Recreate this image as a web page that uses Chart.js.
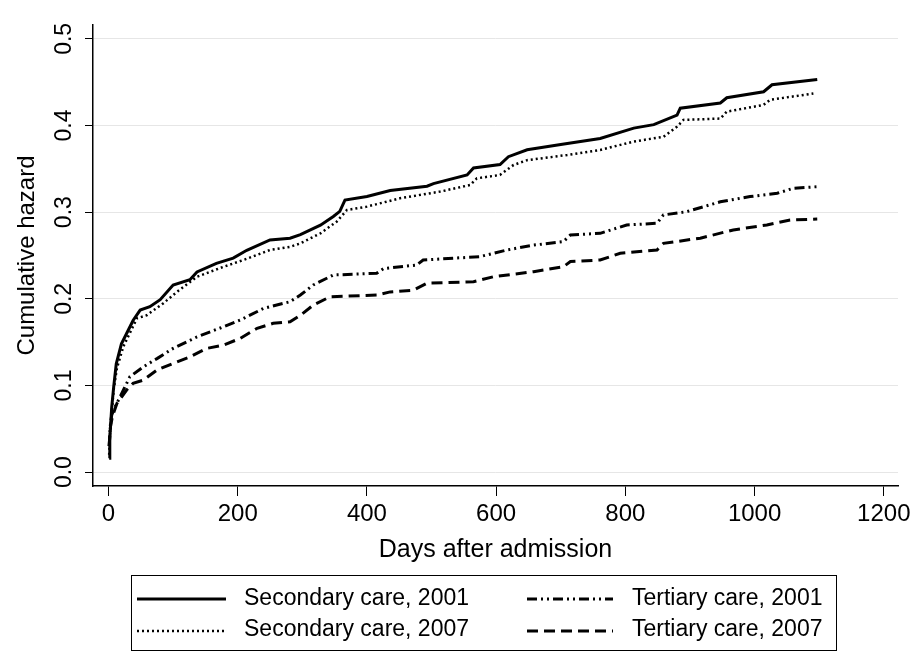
<!DOCTYPE html>
<html>
<head>
<meta charset="utf-8">
<script src="https://cdn.jsdelivr.net/npm/chart.js@4.4.1/dist/chart.umd.min.js"></script>
<style>
  body { margin: 0; background: #fff; }
  canvas { display: block; }
</style>
</head>
<body>
<canvas id="mycanvas" width="924" height="672"></canvas>
<script>
// values
var seriesNames = ['Secondary care, 2001', 'Secondary care, 2007', 'Tertiary care, 2001', 'Tertiary care, 2007'];

var sec2001Days = [1, 2, 5, 8, 12, 20, 28, 38, 49, 64, 80, 100, 126, 137, 167, 193, 214, 250, 281, 297, 328, 348, 358, 366, 400, 436, 493, 503, 555, 565, 606, 619, 648, 700, 761, 813, 844, 880, 885, 947, 957, 1014, 1027, 1097];
var sec2001Haz = [0.016, 0.04, 0.075, 0.098, 0.125, 0.148, 0.160, 0.175, 0.187, 0.191, 0.199, 0.216, 0.222, 0.231, 0.241, 0.247, 0.256, 0.268, 0.270, 0.274, 0.285, 0.295, 0.301, 0.314, 0.318, 0.325, 0.330, 0.333, 0.343, 0.351, 0.355, 0.364, 0.372, 0.378, 0.385, 0.397, 0.401, 0.412, 0.420, 0.426, 0.432, 0.439, 0.447, 0.453];

var sec2007Days = [1, 2, 5, 8, 13, 23, 44, 59, 85, 106, 137, 178, 209, 250, 281, 297, 328, 353, 369, 400, 451, 513, 560, 570, 606, 627, 648, 710, 761, 813, 859, 880, 890, 947, 957, 1014, 1024, 1091];
var sec2007Haz = [0.02, 0.04, 0.07, 0.095, 0.12, 0.145, 0.1775, 0.181, 0.195, 0.208, 0.2255, 0.237, 0.2448, 0.2564, 0.260, 0.264, 0.2756, 0.289, 0.3025, 0.3064, 0.316, 0.3237, 0.3314, 0.339, 0.343, 0.3545, 0.360, 0.366, 0.3718, 0.3815, 0.387, 0.3987, 0.4065, 0.408, 0.416, 0.4238, 0.4296, 0.437];

var ter2001Days = [1, 3, 5, 10, 18, 33, 54, 75, 100, 137, 178, 204, 240, 281, 297, 317, 348, 415, 426, 477, 487, 575, 617, 658, 704, 715, 761, 802, 849, 859, 895, 947, 993, 1035, 1060, 1097];
var ter2001Haz = [0.03, 0.055, 0.066, 0.075, 0.087, 0.110, 0.1216, 0.131, 0.1428, 0.156, 0.1678, 0.1755, 0.189, 0.1967, 0.2044, 0.216, 0.2275, 0.2295, 0.235, 0.239, 0.2448, 0.2487, 0.2564, 0.262, 0.266, 0.2737, 0.2756, 0.2852, 0.2872, 0.2968, 0.3006, 0.312, 0.318, 0.3218, 0.3276, 0.3294];

var ter2007Days = [1, 3, 6, 13, 28, 38, 54, 75, 100, 126, 152, 178, 204, 230, 255, 281, 297, 317, 343, 415, 436, 472, 493, 565, 596, 658, 704, 715, 761, 792, 849, 859, 916, 967, 1019, 1055, 1097];
var ter2007Haz = [0.03, 0.052, 0.064, 0.0793, 0.0947, 0.1024, 0.1062, 0.1178, 0.1255, 0.133, 0.1428, 0.1466, 0.1544, 0.166, 0.1717, 0.1736, 0.181, 0.1928, 0.2024, 0.2044, 0.208, 0.210, 0.218, 0.2197, 0.2255, 0.2313, 0.237, 0.243, 0.2448, 0.2525, 0.2564, 0.264, 0.270, 0.2795, 0.2852, 0.291, 0.292];

var xTicks = [0, 200, 400, 600, 800, 1000, 1200];
var yTicks = [0, 0.1, 0.2, 0.3, 0.4, 0.5];

function toPoints(days, haz) {
  var pts = [];
  for (var i in days) {
    pts.push({x: days[i], y: haz[i]});
  }
  return pts;
}

var FONT = '"Liberation Sans", Arial, sans-serif';

// boxed legend like the Stata one, 2 columns x 2 rows
var boxLegend = {
  id: 'boxLegend',
  afterDraw: function(chart) {
    var ctx = chart.ctx;
    var sets = chart.data.datasets;
    ctx.save();
    ctx.strokeStyle = '#000';
    ctx.lineWidth = 1;
    ctx.strokeRect(131.5, 575.5, 705, 75);
    var colLine = [[137, 226], [527, 613]];
    var colText = [244, 632];
    var rowLine = [599, 631];
    var rowText = [605, 636];
    for (var i = 0; i < sets.length; i++) {
      var c = Math.floor(i / 2), r = i % 2;
      var ds = sets[i];
      ctx.beginPath();
      ctx.setLineDash(ds.borderDash || []);
      ctx.lineWidth = ds.borderWidth;
      ctx.strokeStyle = ds.borderColor;
      ctx.moveTo(colLine[c][0], rowLine[r]);
      ctx.lineTo(colLine[c][1], rowLine[r]);
      ctx.stroke();
      ctx.setLineDash([]);
      ctx.fillStyle = '#000';
      ctx.font = '23px ' + FONT;
      ctx.textBaseline = 'alphabetic';
      ctx.textAlign = 'left';
      ctx.fillText(ds.label, colText[c], rowText[r]);
    }
    ctx.restore();
  }
};

var ctx = document.getElementById('mycanvas');

var chart = new Chart(ctx, {
  type: 'line',
  data: {
    datasets: [
      { label: seriesNames[0], data: toPoints(sec2001Days, sec2001Haz), borderColor: '#000', borderWidth: 3, borderDash: [] },
      { label: seriesNames[1], data: toPoints(sec2007Days, sec2007Haz), borderColor: '#000', borderWidth: 2.5, borderDash: [2, 3] },
      { label: seriesNames[2], data: toPoints(ter2001Days, ter2001Haz), borderColor: '#000', borderWidth: 3, borderDash: [10, 4, 2, 4, 2, 4] },
      { label: seriesNames[3], data: toPoints(ter2007Days, ter2007Haz), borderColor: '#000', borderWidth: 3, borderDash: [11, 6] }
    ]
  },
  options: {
    responsive: false,
    animation: false,
    devicePixelRatio: 1,
    layout: { padding: { top: 25, right: 26, left: 0, bottom: 106 } },
    elements: { point: { radius: 0 }, line: { tension: 0, fill: false } },
    plugins: { legend: { display: false }, tooltip: { enabled: false } },
    scales: {
      x: {
        type: 'linear',
        min: -24,
        max: 1222,
        afterBuildTicks: function(s) { s.ticks = xTicks.map(function(v) { return {value: v}; }); },
        afterFit: function(s) { s.height = 80; },
        grid: { drawOnChartArea: false, tickLength: 10, tickColor: '#000', tickWidth: 1 },
        border: { color: '#000', width: 1.5 },
        ticks: { color: '#000', padding: 4, maxRotation: 0, font: { family: FONT, size: 24 }, callback: function(v) { return String(v); } },
        title: { display: true, text: 'Days after admission', color: '#000', font: { family: FONT, size: 25 }, padding: { top: 0, bottom: 1 } }
      },
      y: {
        type: 'linear',
        min: -0.016,
        max: 0.516,
        afterBuildTicks: function(s) { s.ticks = yTicks.map(function(v) { return {value: v}; }); },
        afterFit: function(s) { s.width = 93; },
        grid: { color: '#e6e6e6', lineWidth: 1, tickLength: 8, tickColor: '#000', tickWidth: 1 },
        border: { color: '#000', width: 1.5 },
        ticks: { color: '#000', padding: 4, minRotation: 90, maxRotation: 90, crossAlign: 'center', font: { family: FONT, size: 23 }, callback: function(v) { return v.toFixed(1); } },
        title: { display: true, text: 'Cumulative hazard', color: '#000', font: { family: FONT, size: 24 }, padding: { top: 13, bottom: 0 } }
      }
    }
  },
  plugins: [boxLegend]
});
</script>
</body>
</html>
